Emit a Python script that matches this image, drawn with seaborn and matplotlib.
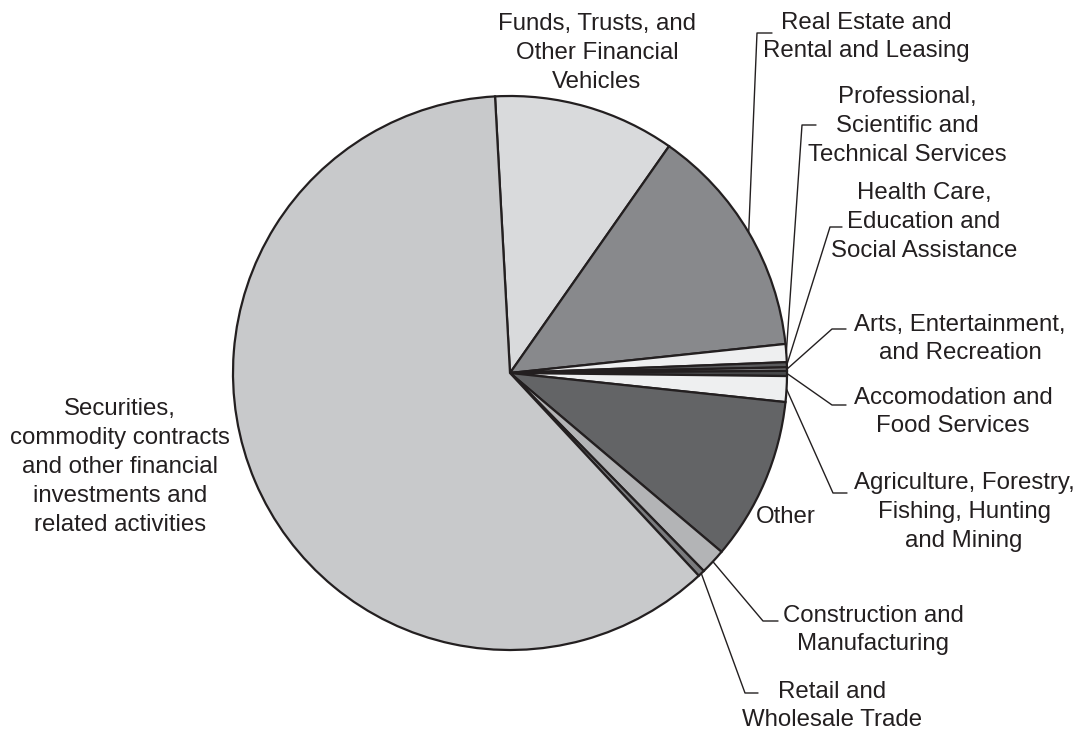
import matplotlib
matplotlib.use("Agg")
import matplotlib.pyplot as plt
import numpy as np
import seaborn as sns

# slices listed clockwise from the top
sectors = ["Funds, Trusts, and\nOther Financial\nVehicles",
           "Real Estate and\nRental and Leasing",
           "Professional,\nScientific and\nTechnical Services",
           "Health Care,\nEducation and\nSocial Assistance",
           "Arts, Entertainment,\nand Recreation",
           "Accomodation and\nFood Services",
           "Agriculture, Forestry,\nFishing, Hunting\nand Mining",
           "Other",
           "Construction and\nManufacturing",
           "Retail and\nWholesale Trade",
           "Securities,\ncommodity contracts\nand other financial\ninvestments and\nrelated activities"]
shares = [10.6, 13.6, 1.05, 0.3, 0.2, 0.3, 1.5, 9.5, 1.5, 0.4, 61.1]
colors = ["#d9dadc", "#88898c", "#eeeff0", "#5a5b5d", "#8e8f92", "#48494b",
          "#eeeff0", "#636466", "#b3b4b6", "#7a7b7e", "#c8c9cb"]

# label placement (pixel coords, y down): text centre, leader elbow, leader end
text_pos = [(597, 53), (866, 37), (907, 126), (924, 222), (960, 339), (953, 412),
            (964, 512), (786, 517), (873, 630), (832, 706), (120, 467)]
elbows = [None, ((757, 33), (772, 33)), ((802, 125), (816, 125)),
          ((830, 227), (842, 227)), ((832, 329), (846, 329)),
          ((832, 405), (846, 405)), ((833, 493), (847, 493)), None,
          ((763, 621), (778, 621)), ((745, 693), (758, 693)), None]

W, H = 1078, 732
cx, cy, R = 510, H - 373, 277

sns.set_style("white")
plt.rcParams['font.family'] = ['Liberation Sans', 'DejaVu Sans']

fig = plt.figure(figsize=(W / 100, H / 100), dpi=100)
ax = fig.add_axes([0, 0, 1, 1])
wedges, _ = ax.pie(shares, colors=colors, startangle=93.1, counterclock=False,
                   center=(cx, cy), radius=R,
                   wedgeprops={"edgecolor": "#231f20", "linewidth": 1.6})
ax.set_xlim(0, W)
ax.set_ylim(0, H)
ax.set_aspect("equal")
ax.axis("off")

for i, w in enumerate(wedges):
    tx, ty = text_pos[i]
    ax.text(tx, H - ty, sectors[i], ha="center", va="center", multialignment="center",
            fontsize=17.3, color="#231f20", linespacing=1.4)
    if elbows[i] is not None:
        mid = np.deg2rad((w.theta1 + w.theta2) / 2)
        rim = (cx + R * np.cos(mid), cy + R * np.sin(mid))
        (ex, ey), (fx, fy) = elbows[i]
        ax.plot([rim[0], ex, fx], [rim[1], H - ey, H - fy], color="#231f20", lw=1.0)

fig.savefig("out.png", dpi=100, facecolor="white")
